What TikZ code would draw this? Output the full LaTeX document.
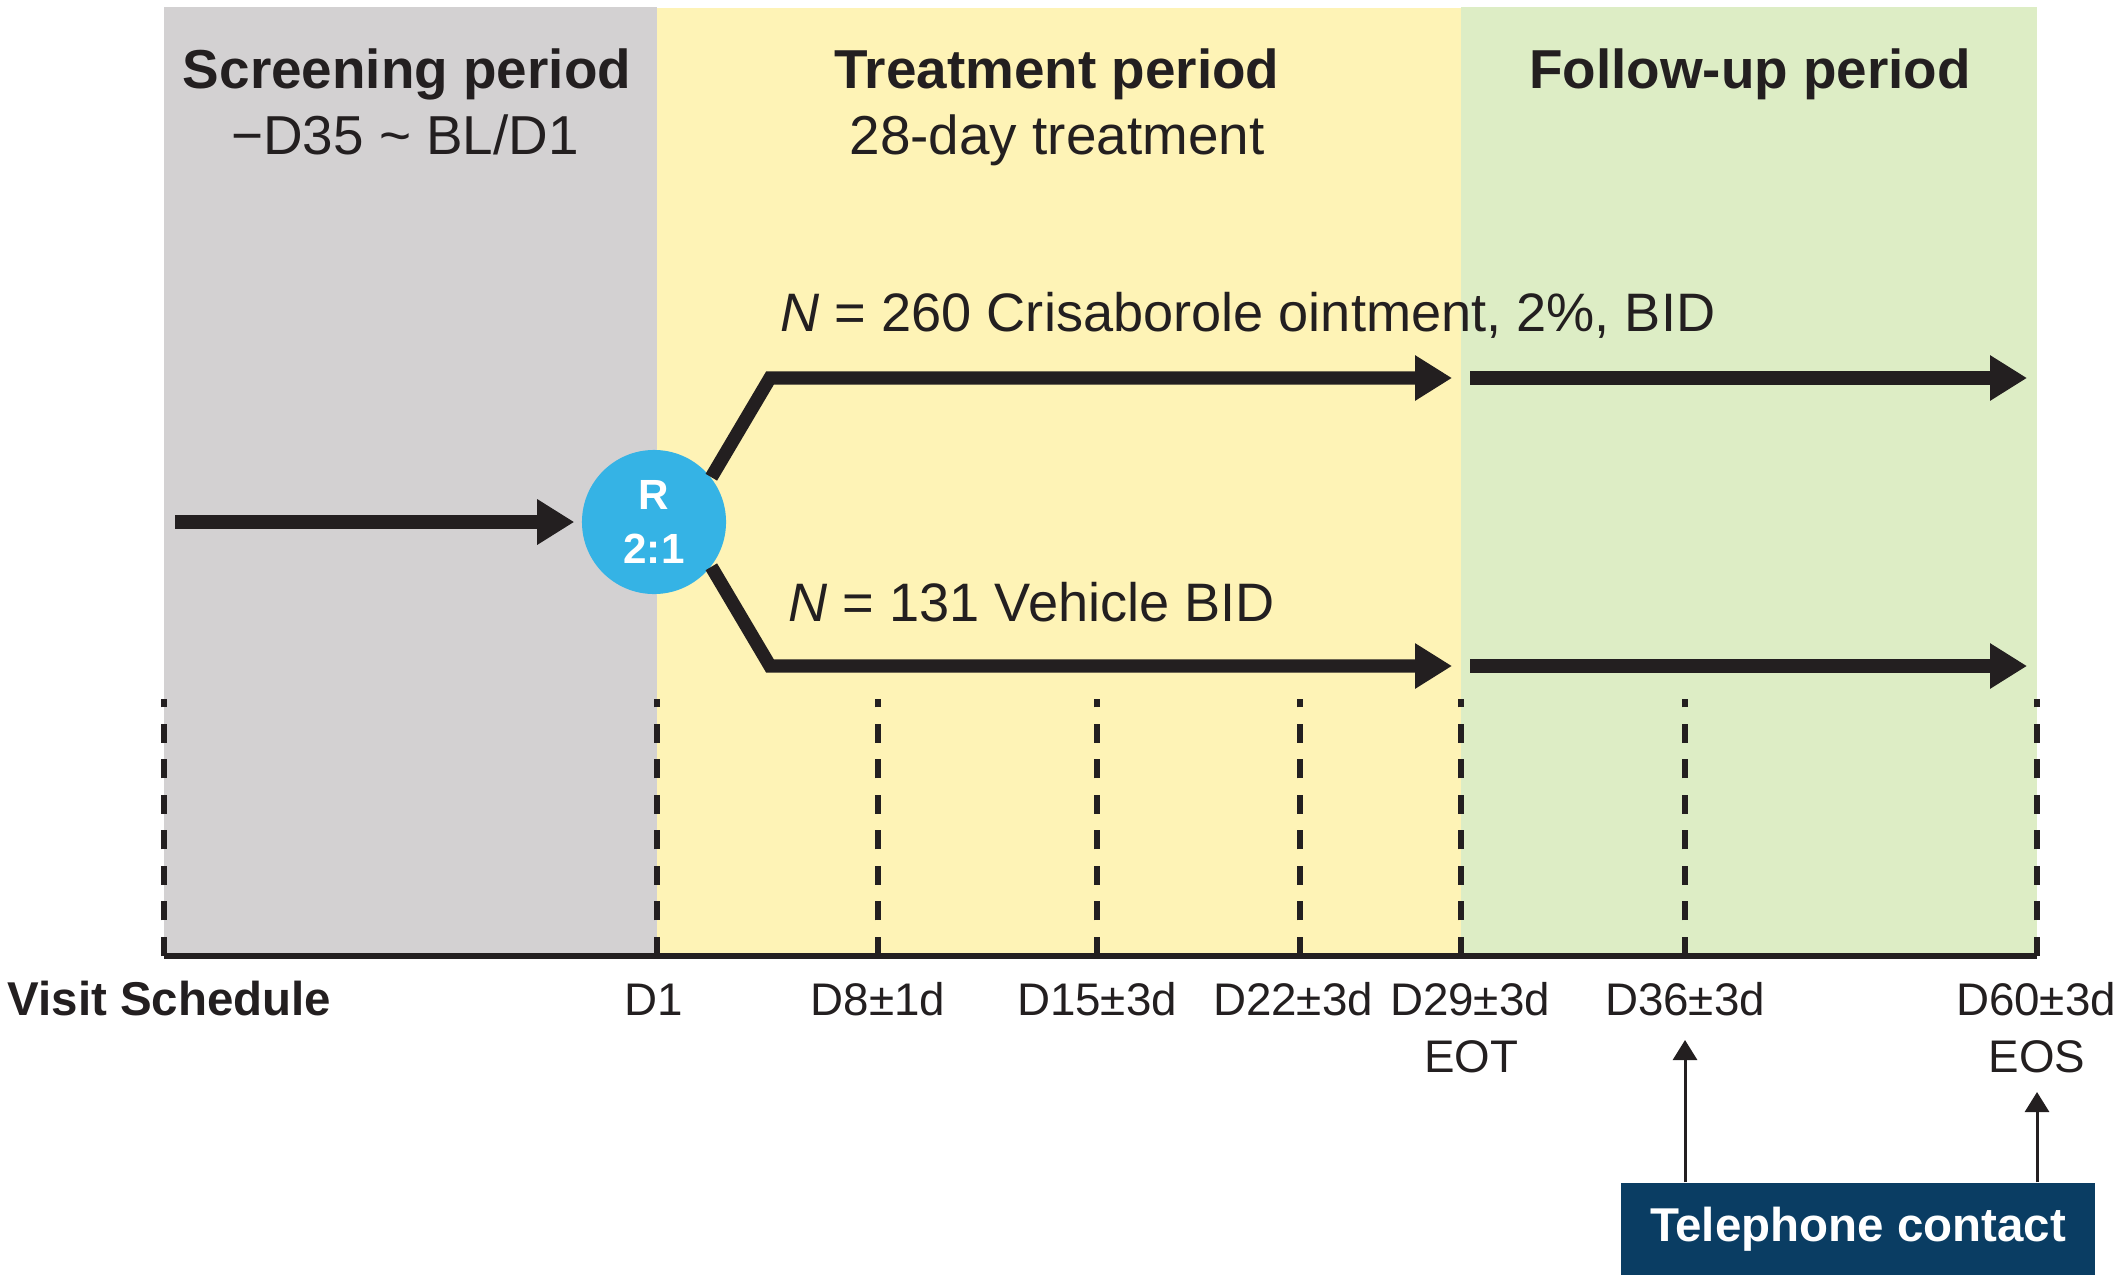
\documentclass[tikz,border=0pt]{standalone}
\usepackage{fontspec}
\setmainfont{Liberation Sans}
\usetikzlibrary{arrows.meta}
\definecolor{screengray}{HTML}{D3D1D2}
\definecolor{treatyellow}{HTML}{FEF3B6}
\definecolor{followgreen}{HTML}{DDEDC5}
\definecolor{randblue}{HTML}{35B3E5}
\definecolor{teldark}{HTML}{0A3D63}
\definecolor{inkblack}{HTML}{231F20}
\begin{document}
\begin{tikzpicture}[x=0.01cm, y=-0.01cm, every node/.style={text=inkblack, inner sep=0pt},
    periodtitle/.style={font=\fontsize{15.6}{19}\selectfont\bfseries, anchor=base},
    periodsub/.style={font=\fontsize{15.6}{19}\selectfont, anchor=base},
    armlabel/.style={font=\fontsize{15.4}{18}\selectfont, anchor=base west},
    visit/.style={font=\fontsize{13}{16}\selectfont, anchor=base},
    bigarrow/.style={line width=3.8pt, draw=inkblack, -{Triangle[length=0.37cm, width=0.43cm]}},
    visitline/.style={line width=1.7pt, draw=inkblack, dash pattern=on 0.19cm off 0.165cm},
    uparrow/.style={line width=0.85pt, draw=inkblack, -{Triangle[length=0.2cm, width=0.24cm]}} ]
	\useasboundingbox (0,0) rectangle (2128,1282);
	\fill[screengray] (164,7) rectangle (657,956);
	\fill[treatyellow] (657,8) rectangle (1461,956);
	\fill[followgreen] (1461,7) rectangle (2037,956);
	\foreach \x in {164, 657, 878, 1097, 1300, 1461, 1685, 2037}
		\draw[visitline] (\x,956) -- (\x,699);
	\draw[line width=1.5pt, inkblack] (164,956) -- (2037,956);

	\node[periodtitle] (screen) at (407,89) {Screening period};
	\node[periodsub] (screensub) at (405,155) {−D35 \textasciitilde{} BL/D1};
	\node[periodtitle] (treat) at (1057,89) {Treatment period};
	\node[periodsub] (treatsub) at (1057,155) {28-day treatment};
	\node[periodtitle] (follow) at (1750,89) {Follow-up period};

	\node[circle, fill=randblue, minimum size=1.44cm, text=white, align=center,
		font=\fontsize{12}{15.5}\selectfont\bfseries] (R) at (654,522) {R\\2:1};
	\coordinate (entry) at (175,522);
	\draw[bigarrow, shorten >=0.07cm] (entry) -- (R);

	\coordinate (upcorner) at (770,378);
	\coordinate (uptip) at (1452,378);
	\coordinate (upnext) at (1470,378);
	\coordinate (upend) at (2027,378);
	\coordinate (lowcorner) at (770,666);
	\coordinate (lowtip) at (1452,666);
	\coordinate (lownext) at (1470,666);
	\coordinate (lowend) at (2027,666);
	\draw[bigarrow] (R.38) -- (upcorner) -- (uptip);
	\draw[bigarrow] (upnext) -- (upend);
	\draw[bigarrow] (R.-38) -- (lowcorner) -- (lowtip);
	\draw[bigarrow] (lownext) -- (lowend);
	\node[armlabel] (crisa) at (780,331) {{\itshape N} = 260 Crisaborole ointment, 2\%, BID};
	\node[armlabel] (vehicle) at (788,621) {{\itshape N} = 131 Vehicle BID};

	\node[font=\fontsize{13.5}{16}\selectfont\bfseries, anchor=base west] (schedule) at (7,1015) {Visit Schedule};
	\foreach \x/\name/\lbl in {654/d1/D1, 878/d8/D8±1d, 1097/d15/D15±3d, 1293/d22/D22±3d,
		1470/d29/D29±3d, 1685/d36/D36±3d, 2036/d60/D60±3d}
		\node[visit] (\name) at (\x,1015) {\lbl};
	\node[visit] (eot) at (1471,1072) {EOT};
	\node[visit] (eos) at (2037,1072) {EOS};

	\node[fill=teldark, minimum width=4.73cm, minimum height=0.92cm, text=white,
		font=\fontsize{13.5}{16}\selectfont\bfseries] (tel) at (1858,1229) {Telephone contact};
	\coordinate (d36tip) at (1685,1040);
	\coordinate (d60tip) at (2037,1092);
	\draw[uparrow] (tel.north -| d36tip) -- (d36tip);
	\draw[uparrow] (tel.north -| d60tip) -- (d60tip);
\end{tikzpicture}
\end{document}
